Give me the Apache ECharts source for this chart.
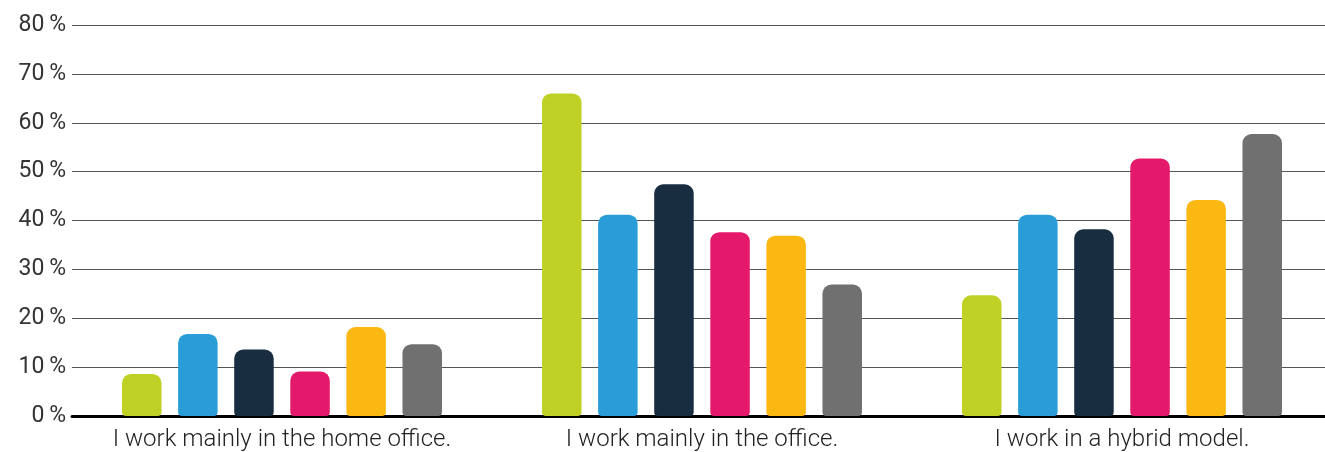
<!DOCTYPE html>
<html>
<head>
<meta charset="utf-8">
<script src="https://cdn.jsdelivr.net/npm/echarts@6/dist/echarts.min.js"></script>
<style>
html,body{margin:0;padding:0;background:#fff;overflow:hidden;width:1325px;height:452px;}
#chart{width:1332px;height:452px;}
</style>
</head>
<body>
<div id="chart"></div>
<script>
const categories = ['I work mainly in the home office.', 'I work mainly in the office.', 'I work in a hybrid model.'];
const seriesNames = ['Group 1', 'Group 2', 'Group 3', 'Group 4', 'Group 5', 'Group 6'];
const group1 = [8.6, 66.0, 24.7];
const group2 = [16.8, 41.2, 41.2];
const group3 = [13.6, 47.4, 38.2];
const group4 = [9.1, 37.6, 52.7];
const group5 = [18.2, 36.9, 44.2];
const group6 = [14.7, 26.9, 57.7];
const yTicks = [0, 10, 20, 30, 40, 50, 60, 70, 80];

const values = [group1, group2, group3, group4, group5, group6];
const colors = ['#bed124', '#2a9cd8', '#182d40', '#e5196b', '#fbb813', '#707070'];

const chart = echarts.init(document.getElementById('chart'));
chart.setOption({
  animation: false,
  grid: { left: 72, right: 0, top: 25, bottom: 36, containLabel: false },
  xAxis: {
    type: 'category',
    data: categories,
    axisLine: { show: true, lineStyle: { color: '#000', width: 3 } },
    axisTick: { show: false },
    axisLabel: { interval: 0, color: '#222', fontSize: 24, fontFamily: 'Roboto', fontWeight: 300, margin: 12 }
  },
  yAxis: {
    type: 'value',
    min: yTicks[0],
    max: yTicks[yTicks.length - 1],
    interval: 10,
    axisLine: { show: false },
    axisTick: { show: false },
    splitLine: { lineStyle: { color: '#555', width: 1 } },
    axisLabel: {
      color: '#333', fontSize: 23, fontFamily: 'Roboto', margin: 6,
      formatter: v => v + '\u2009%'
    }
  },
  series: values.map((d, i) => ({
    name: seriesNames[i],
    type: 'bar',
    data: d,
    barWidth: 39.5,
    barGap: '42%',
    itemStyle: { color: colors[i], borderRadius: [9, 9, 4, 4] }
  }))
});
</script>
</body>
</html>
